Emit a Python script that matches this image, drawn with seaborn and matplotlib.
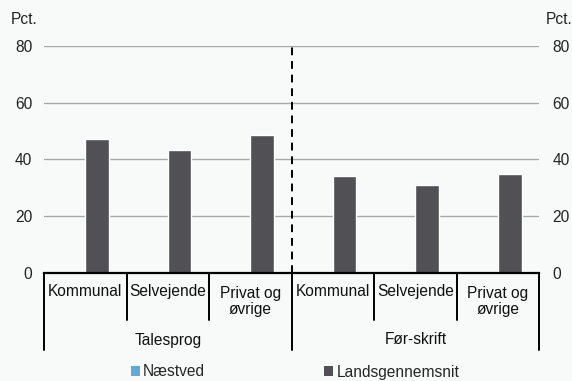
import matplotlib
matplotlib.use("Agg")
import matplotlib.pyplot as plt
import matplotlib.transforms as mtransforms
from matplotlib.patches import Patch
import seaborn as sns
import pandas as pd
import numpy as np

# data
groups = ["Talesprog", "Før-skrift"]
categories = ["Kommunal", "Selvejende", "Privat og\nøvrige"]
series = ["Næstved", "Landsgennemsnit"]
naestved = [np.nan, np.nan, np.nan, np.nan, np.nan, np.nan]
landsgennemsnit = [47.2, 43.2, 48.5, 34.0, 30.9, 34.8]
yticks = [0, 20, 40, 60, 80]

colors = {"Næstved": "#62a9d6", "Landsgennemsnit": "#505055"}
bg = "#f8f9f9"
fs = 11.2

keys = [g + "|" + c for g in groups for c in categories]
df = pd.DataFrame({
    "key": keys * 2,
    "serie": [series[0]] * 6 + [series[1]] * 6,
    "value": naestved + landsgennemsnit,
})

sns.set_style("white")
plt.rcParams["font.family"] = ["Liberation Sans", "DejaVu Sans"]
plt.rcParams["font.size"] = fs

fig = plt.figure(figsize=(5.72, 3.81), dpi=100, facecolor=bg)
ax = fig.add_axes([44 / 572, 1 - 272.7 / 381, (539.3 - 44) / 572, (272.7 - 45.9) / 381])
ax.set_facecolor(bg)

sns.barplot(data=df, x="key", y="value", hue="serie", hue_order=series, order=keys,
            palette=colors, width=0.57, saturation=1, legend=False, ax=ax)

ax.set_ylim(0, 80)
ax.set_xlim(-0.5, 5.5)
ax.set_yticks(yticks)
ax.set_xticks([])
ax.set_xlabel("")
ax.set_ylabel("")
ax.yaxis.grid(True, color="#a8a8a8", lw=1)
ax.set_axisbelow(True)
for s in ["left", "right", "top"]:
    ax.spines[s].set_visible(False)
ax.spines["bottom"].set_color("black")
ax.spines["bottom"].set_linewidth(1.6)
ax.tick_params(axis="y", length=0, pad=8.5, labelsize=fs, labelcolor="#222222")

ax2 = ax.twinx()
ax2.set_ylim(0, 80)
ax2.set_yticks(yticks)
for s in ax2.spines.values():
    s.set_visible(False)
ax2.tick_params(axis="y", length=0, pad=9.5, labelsize=fs, labelcolor="#222222")

# dashed divider between groups
ax.axvline(2.5, color="black", lw=1.4, ls=(0, (4, 3)), zorder=5)

# multi-level category axis
tr = mtransforms.blended_transform_factory(ax.transData, fig.transFigure)
fy = lambda px: 1 - px / 381
for x in [0.5, 1.5, 3.5, 4.5]:
    ax.plot([x, x], [fy(272.7), fy(320)], color="black", lw=1.4, transform=tr, clip_on=False)
for x in [-0.5, 2.5, 5.5]:
    ax.plot([x, x], [fy(272.7), fy(350)], color="black", lw=1.4, transform=tr, clip_on=False)
for i, k in enumerate(keys):
    lab = k.split("|")[1]
    y = 291.5 if "\n" not in lab else 301.5
    ax.text(i, fy(y), lab, transform=tr, ha="center", va="center",
            fontsize=fs, color="#111111", linespacing=1.15)
for j, g in enumerate(groups):
    ax.text(1 + 3 * j, fy(340), g, transform=tr, ha="center", va="center",
            fontsize=fs, color="#111111")

fig.text(11 / 572, fy(20), "Pct.", ha="left", va="center", fontsize=fs, color="#222222")
fig.text(546 / 572, fy(20), "Pct.", ha="left", va="center", fontsize=fs, color="#222222")

handles = [Patch(facecolor=colors[s], edgecolor="none", label=s) for s in series]
fig.legend(handles=handles, loc="center", bbox_to_anchor=(295 / 572, fy(372)), ncol=2,
           frameon=False, fontsize=fs, handlelength=0.58, handleheight=0.58,
           handletextpad=0.2, columnspacing=7.7, borderaxespad=0, borderpad=0)

fig.savefig("out.png", dpi=100, facecolor=bg)
